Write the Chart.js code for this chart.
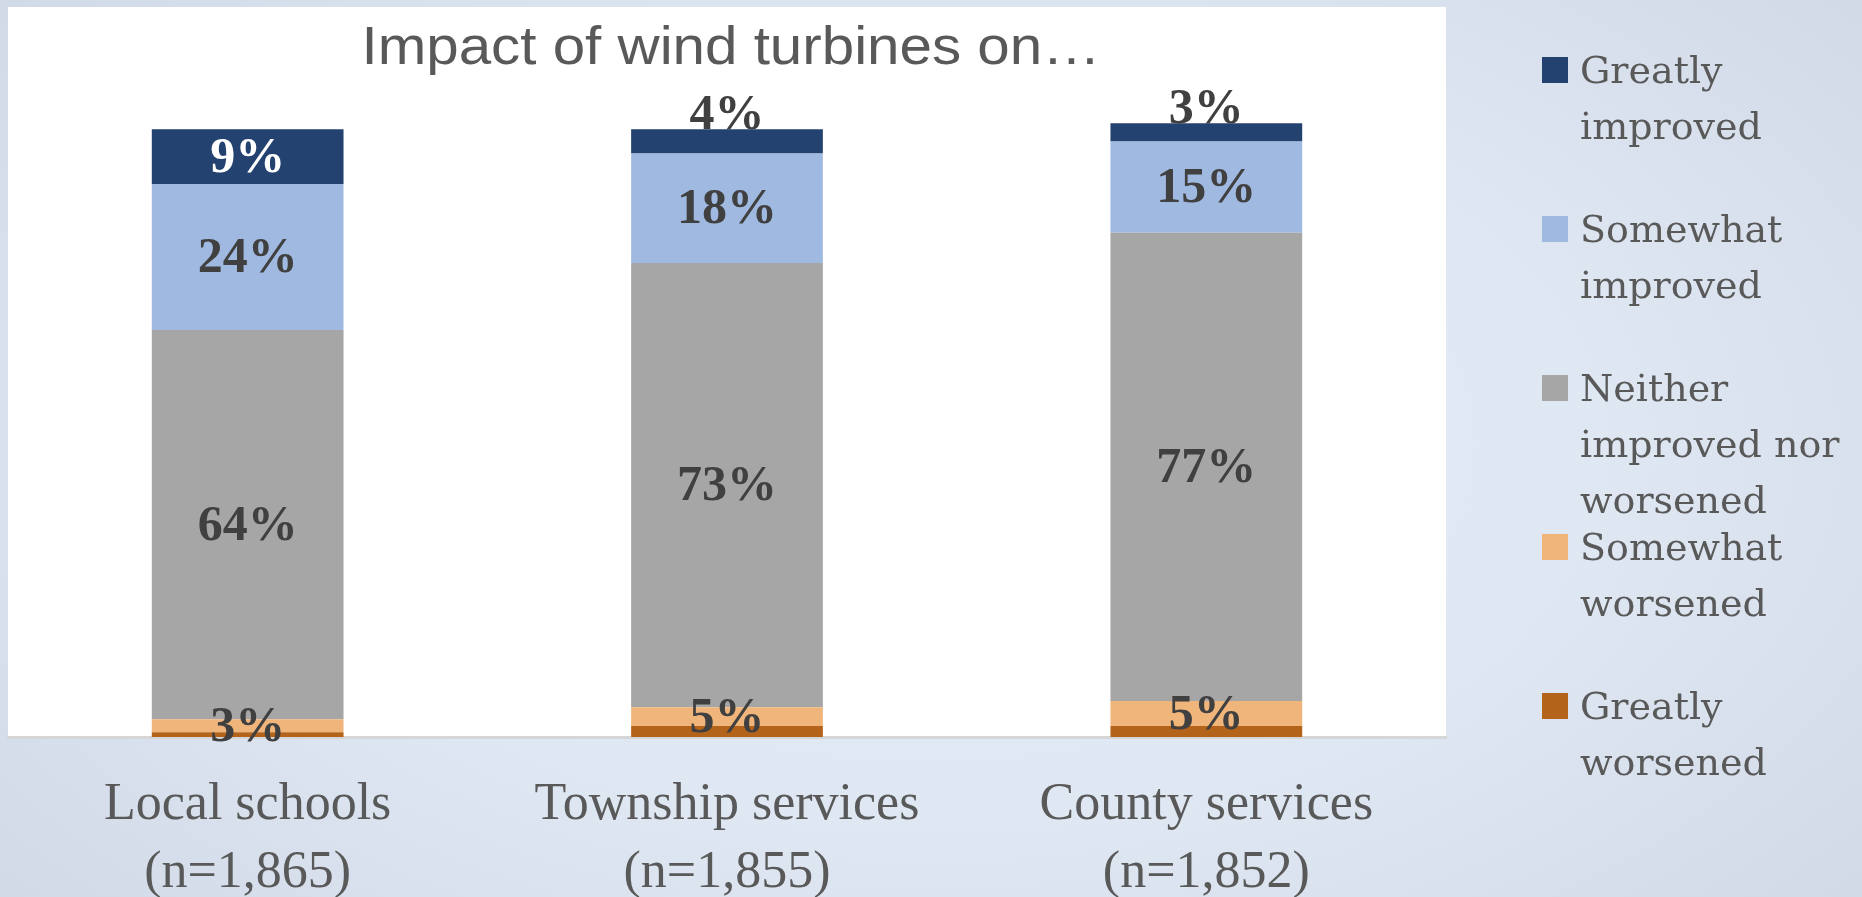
<!DOCTYPE html>
<html>
<head>
<meta charset="utf-8">
<title>Impact of wind turbines on…</title>
<script src="https://cdn.jsdelivr.net/npm/chart.js@4.4.1/dist/chart.umd.min.js"></script>
<style>
    html, body { margin: 0; padding: 0; overflow: hidden; }
    body {
        width: 1862px;
        height: 897px;
        background: radial-gradient(ellipse 80% 95% at 50% 50%, #e4ecf7 0%, #dfe7f3 45%, #cad3e0 100%);
    }
    #chartBox { position: relative; width: 1862px; height: 897px; }
</style>
</head>
<body>
<div id="chartBox"><canvas id="impactChart"></canvas></div>
<script>
const chartTitle = 'Impact of wind turbines on…';
const categories = [
    ['Local schools', '(n=1,865)'],
    ['Township services', '(n=1,855)'],
    ['County services', '(n=1,852)']
];
const seriesNames = ['Greatly worsened', 'Somewhat worsened', 'Neither improved nor worsened', 'Somewhat improved', 'Greatly improved'];
const seriesColors = ['#B4631A', '#F0B57B', '#A6A6A6', '#A0B9E0', '#23426F'];

// segment sizes in percent
const greatlyWorsened = [0.8, 1.8, 1.8];
const somewhatWorsened = [2.1, 3.1, 4.1];
const neither = [64, 73, 77];
const somewhatImproved = [24, 18, 15];
const greatlyImproved = [9, 4, 3];

// the "worsened" label on the slide shows both worsened groups together
const worsenedLabels = ['3%', '5%', '5%'];

const pct = values => values.map(v => Math.round(v) + '%');

document.addEventListener('DOMContentLoaded', function() {
    const ctx = document.getElementById('impactChart').getContext('2d');

    /**
     * White plot area behind the bars
     */
    const plotBackground = {
        id: 'plotBackground',
        beforeDraw(chart) {
            const a = chart.chartArea;
            const c = chart.ctx;
            c.save();
            c.fillStyle = '#ffffff';
            c.fillRect(a.left, a.top, a.right - a.left, a.bottom - a.top);
            c.restore();
        }
    };

    /**
     * Title sits inside the white plot area
     */
    const plotTitle = {
        id: 'plotTitle',
        afterDraw(chart) {
            const a = chart.chartArea;
            const c = chart.ctx;
            c.save();
            c.font = '54px "Liberation Sans", Arial, sans-serif';
            c.fillStyle = '#595959';
            c.textAlign = 'center';
            c.textBaseline = 'alphabetic';
            c.translate((a.left + a.right) / 2 + 4, a.top + 57);
            c.scale(1.08, 1);
            c.fillText(chartTitle, 0, 0);
            c.restore();
        }
    };

    /**
     * Percent labels on the bar segments
     */
    const segmentLabels = {
        id: 'segmentLabels',
        afterDatasetsDraw(chart) {
            const c = chart.ctx;
            c.save();
            c.font = 'bold 50px "Liberation Serif", "Times New Roman", serif';
            c.textAlign = 'center';
            c.textBaseline = 'middle';
            chart.data.datasets.forEach((ds, i) => {
                if (!ds.valueLabels) return;
                chart.getDatasetMeta(i).data.forEach((bar, j) => {
                    const text = ds.valueLabels[j];
                    if (!text) return;
                    const p = bar.getProps(['x', 'y', 'base'], true);
                    let cy = (p.y + p.base) / 2 + 2;
                    let color = ds.labelColor;
                    // too thin for the text: lift it onto the top edge
                    if (ds.liftThin && p.base - p.y < 35) {
                        cy = p.y - 13;
                        color = '#404040';
                    }
                    c.fillStyle = color;
                    c.fillText(text, p.x, cy);
                });
            });
            c.restore();
        }
    };

    function wrapWords(c, text, maxWidth) {
        const lines = [];
        let line = '';
        text.split(' ').forEach(word => {
            const next = line ? line + ' ' + word : word;
            if (line && c.measureText(next).width > maxWidth) {
                lines.push(line);
                line = word;
            } else {
                line = next;
            }
        });
        if (line) lines.push(line);
        return lines;
    }

    /**
     * Legend on the right, top series first
     */
    const sideLegend = {
        id: 'sideLegend',
        afterDraw(chart) {
            const c = chart.ctx;
            const x0 = chart.chartArea.right + 96;
            c.save();
            c.font = '38px "DejaVu Serif", serif';
            c.textAlign = 'left';
            c.textBaseline = 'alphabetic';
            chart.data.datasets.slice().reverse().forEach((ds, k) => {
                const top = 57 + k * 159;
                c.fillStyle = ds.backgroundColor;
                c.fillRect(x0, top, 26, 26);
                c.fillStyle = '#595959';
                wrapWords(c, ds.label, 275).forEach((line, n) => {
                    c.fillText(line, x0 + 38, top + 26 + n * 56);
                });
            });
            c.restore();
        }
    };

    const seriesValues = [greatlyWorsened, somewhatWorsened, neither, somewhatImproved, greatlyImproved];
    const seriesLabels = [null, worsenedLabels, pct(neither), pct(somewhatImproved), pct(greatlyImproved)];
    const labelColors = ['#404040', '#404040', '#404040', '#404040', '#ffffff'];

    const datasets = seriesNames.map((name, i) => ({
        label: name,
        data: seriesValues[i],
        backgroundColor: seriesColors[i],
        borderWidth: 0,
        valueLabels: seriesLabels[i],
        labelColor: labelColors[i],
        liftThin: i === seriesNames.length - 1,
        categoryPercentage: 1.0,
        barPercentage: 0.4
    }));

    new Chart(ctx, {
        type: 'bar',
        data: {
            labels: categories,
            datasets: datasets
        },
        options: {
            responsive: true,
            maintainAspectRatio: false,
            animation: false,
            layout: {
                padding: { left: 8, top: 7, right: 416, bottom: 0 }
            },
            plugins: {
                legend: { display: false },
                title: { display: false },
                tooltip: { enabled: false }
            },
            scales: {
                x: {
                    stacked: true,
                    grid: { display: false, drawTicks: false },
                    border: { display: true, color: '#D6D6D6', width: 3 },
                    ticks: {
                        color: '#595959',
                        font: { family: '"Liberation Serif", "Times New Roman", serif', size: 52, lineHeight: 1.3 },
                        padding: 35,
                        maxRotation: 0,
                        autoSkip: false
                    },
                    afterFit: scale => { scale.height = 160; }
                },
                y: {
                    stacked: true,
                    display: false,
                    min: 0,
                    max: 120
                }
            }
        },
        plugins: [plotBackground, segmentLabels, plotTitle, sideLegend]
    });
});
</script>
</body>
</html>
